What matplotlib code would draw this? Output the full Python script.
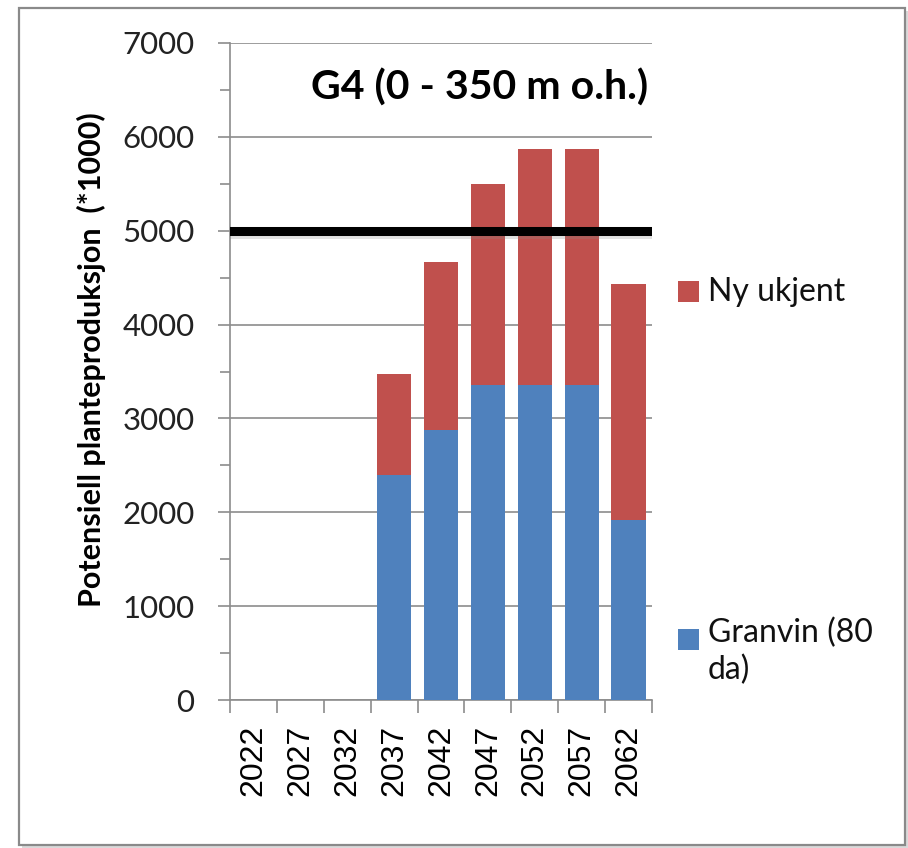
import matplotlib
matplotlib.use("Agg")
import matplotlib.pyplot as plt
import matplotlib.patheffects as pe
from matplotlib.patches import Rectangle
from matplotlib.ticker import MultipleLocator

years = ["2022", "2027", "2032", "2037", "2042", "2047", "2052", "2057", "2062"]
granvin = [0, 0, 0, 2400, 2880, 3360, 3360, 3360, 1920]
ny_ukjent = [0, 0, 0, 1070, 1790, 2140, 2510, 2510, 2510]
threshold = 5000
title = "G4 (0 - 350 m o.h.)"
ylabel = "Potensiell planteproduksjon  (*1000)"
legend_labels = ["Ny ukjent", "Granvin (80\nda)"]

blue = "#4F81BD"
red = "#C0504D"
grid_c = "#8C8C8C"
W, H = 908, 848

fig = plt.figure(figsize=(9.08, 8.48), dpi=100)

def fx(px):
    return px / W

def fy(py):
    return 1 - py / H

# outer frame with light shadow
fig.patches.append(Rectangle((fx(22), fy(848)), fx(886), 837 / H, transform=fig.transFigure,
                             facecolor="#DADADA", edgecolor="none", zorder=0))
fig.patches.append(Rectangle((fx(19), fy(845)), fx(886), 837 / H, transform=fig.transFigure,
                             facecolor="white", edgecolor="#8A8A8A", linewidth=1.6, zorder=1))

ax = fig.add_axes([fx(230), fy(700), 422 / W, 657 / H])
ax.set_zorder(2)
ax.patch.set_alpha(0)
x = list(range(len(years)))
ax.bar(x, granvin, width=0.73, color=blue, zorder=3)
ax.bar(x, ny_ukjent, width=0.73, bottom=granvin, color=red, zorder=3)
ax.axhline(threshold, color="black", linewidth=6.5, zorder=4,
           path_effects=[pe.SimpleLineShadow(offset=(1, -2.5), shadow_color="#888888", alpha=0.25),
                         pe.Normal()])

ax.set_xlim(-0.5, len(years) - 0.5)
ax.set_ylim(0, 7000)
ax.set_yticks(range(0, 7001, 1000))
ax.yaxis.set_minor_locator(MultipleLocator(500))
ax.yaxis.grid(True, which="major", color=grid_c, linewidth=1.2, zorder=1)
ax.set_axisbelow(True)
for s in ["top", "right"]:
    ax.spines[s].set_visible(False)
for s in ["left", "bottom"]:
    ax.spines[s].set_color(grid_c)
    ax.spines[s].set_linewidth(1.2)

ax.set_xticks(x)
ax.set_xticklabels(years, rotation=90, fontsize=23, family="Liberation Sans")
ax.set_xticks([i - 0.5 for i in range(len(years) + 1)], minor=True)
ax.tick_params(axis="x", which="major", length=0, pad=18)
ax.tick_params(axis="x", which="minor", length=9.5, color=grid_c, width=1.2)
ax.tick_params(axis="y", which="major", length=8.5, color=grid_c, width=1.2, pad=17)
ax.tick_params(axis="y", which="minor", length=7, color=grid_c, width=1.2)
for lab in ax.get_yticklabels():
    lab.set_fontsize(22.5)
    lab.set_family("Lato")
    lab.set_color("#222222")

# y-axis title
fig.text(fx(91), fy(360), ylabel, rotation=90, ha="center", va="center",
         fontsize=22, fontweight="bold", family="Lato")

# chart title inside plot area
fig.text(fx(648), fy(88), title, ha="right", va="center",
         fontsize=29.5, fontweight="bold", family="Lato")

# legend entries
fig.patches.append(Rectangle((fx(678), fy(302)), 21 / W, 21 / H, transform=fig.transFigure,
                             facecolor=red, edgecolor="none", zorder=3))
fig.text(fx(708), fy(292), legend_labels[0], fontsize=23, family="Lato", va="center",
         ha="left", color="#111111")
fig.patches.append(Rectangle((fx(678), fy(650)), 21 / W, 21 / H, transform=fig.transFigure,
                             facecolor=blue, edgecolor="none", zorder=3))
fig.text(fx(708), fy(618), legend_labels[1], fontsize=23, family="Lato", va="top",
         ha="left", linespacing=1.25, color="#111111")

fig.savefig("out.png", dpi=100)
